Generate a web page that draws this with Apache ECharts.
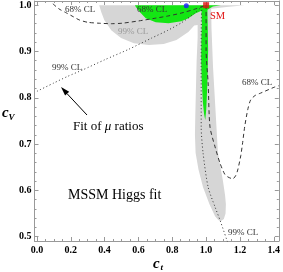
<!DOCTYPE html>
<html><head><meta charset="utf-8">
<style>html,body{margin:0;padding:0;background:#fff}#c{width:283px;height:272px}</style>
<script src="https://cdn.jsdelivr.net/npm/echarts/dist/echarts.min.js"></script>
</head><body><div id="c"></div>
<script>
const xMajorTicks = [0, 0.2, 0.4, 0.6, 0.8, 1.0, 1.2, 1.4];
const xMinorTicks = [0.05,0.1,0.15,0.25,0.3,0.35,0.45,0.5,0.55,0.65,0.7,0.75,0.85,0.9,0.95,1.05,1.1,1.15,1.25,1.3,1.35];
const yMajorTicks = [0.5, 0.6, 0.7, 0.8, 0.9, 1.0];
const yMinorTicks = [0.52,0.54,0.56,0.58,0.62,0.64,0.66,0.68,0.72,0.74,0.76,0.78,0.82,0.84,0.86,0.88,0.92,0.94,0.96,0.98];

// MSSM Higgs fit, 99% CL region (gray)
const gray99 = [
[0.368,1.0],[1.0,1.0],[1.1,1.0],[1.228,1.0],[1.12,0.996],[1.03,0.992],
[1.032,0.95],[1.041,0.866],[1.058,0.758],[1.070,0.681],[1.085,0.650],[1.099,0.622],[1.112,0.590],[1.117,0.570],[1.115,0.550],[1.105,0.538],[1.088,0.534],[1.072,0.536],
[1.053,0.544],[1.02,0.570],[0.982,0.607],[0.955,0.645],[0.938,0.681],[0.934,0.72],[0.936,0.758],[0.940,0.82],[0.944,0.880],[0.950,0.930],[0.950,0.957],
[0.93,0.956],[0.895,0.942],[0.825,0.925],[0.749,0.916],[0.661,0.914],[0.573,0.918],[0.497,0.929],[0.439,0.946],[0.398,0.968],[0.380,0.985],[0.372,0.995]
];
// MSSM Higgs fit, 68% CL region (green)
const green68 = [
[0.579,1.0],[1.0,1.0],[1.088,1.0],[1.04,0.997],[1.008,0.99],
[1.010,0.95],[1.012,0.903],[1.009,0.85],[1.006,0.817],[1.001,0.775],[0.995,0.752],[0.988,0.765],[0.981,0.79],[0.974,0.838],[0.971,0.88],[0.972,0.925],[0.975,0.96],[0.973,0.988],
[0.936,0.982],[0.895,0.972],[0.854,0.965],[0.778,0.961],[0.702,0.963],[0.643,0.972],[0.608,0.985],[0.585,0.996]
];
// Fit of mu ratios, 68% CL (dashed)
const mu68Left = [[0.094,1.003],[0.13,0.992],[0.175,0.983],[0.215,0.975],[0.251,0.968],[0.30,0.963],[0.368,0.961],[0.44,0.960],[0.503,0.961],[0.602,0.966],[0.702,0.972],[0.78,0.977],[0.854,0.983],[0.93,0.991],[1.0,1.0]];
const mu68Right = [[1.0,1.0],[1.0,0.95],[1.0,0.903],[1.012,0.832],[1.023,0.737],[1.053,0.694],[1.082,0.659],[1.11,0.635],[1.129,0.629],[1.158,0.625],[1.175,0.632],[1.187,0.644],[1.205,0.675],[1.216,0.703],[1.228,0.737],[1.246,0.774],[1.263,0.795],[1.29,0.805],[1.322,0.810],[1.404,0.823],[1.43,0.826]];
// Fit of mu ratios, 99% CL (dotted)
const mu99Left = [[0.0,0.814],[0.1,0.832],[0.18,0.846],[0.269,0.860],[0.4,0.882],[0.544,0.905],[0.678,0.929],[0.77,0.945],[0.854,0.962],[0.93,0.982],[0.975,0.997]];
const mu99Right = [[0.975,0.997],[0.972,0.97],[0.971,0.866],[0.971,0.737],[0.982,0.681],[1.012,0.607],[1.053,0.564],[1.082,0.536],[1.129,0.486]];
const bestFit = [[0.883,0.999]];
const smPoint = [[1.0,1.0]];

const X_MIN = -0.0146, X_MAX = 1.43, Y_MIN = 0.4907, Y_MAX = 1.009;
const FRAME = '#999';
const SERIF = '"Liberation Serif", "DejaVu Serif", serif';

function xAx(pos, ticks, len, labels, line) {
  return {type:'value', position:pos, min:X_MIN, max:X_MAX,
    axisLine:{show:line, onZero:false, lineStyle:{color:FRAME,width:1}},
    axisTick:{show:true, inside:true, length:len, customValues:ticks, lineStyle:{color:FRAME,width:1}},
    axisLabel:{show:labels, customValues:ticks, margin:4, formatter:v=>v.toFixed(1), color:'#000', fontFamily:SERIF, fontWeight:'bold', fontSize:10},
    splitLine:{show:false}};
}
function yAx(pos, ticks, len, labels, line) {
  return {type:'value', position:pos, min:Y_MIN, max:Y_MAX,
    axisLine:{show:line, onZero:false, lineStyle:{color:FRAME,width:1}},
    axisTick:{show:true, inside:true, length:len, customValues:ticks, lineStyle:{color:FRAME,width:1}},
    axisLabel:{show:labels, customValues:ticks, margin:3, formatter:v=>v.toFixed(1), color:'#000', fontFamily:SERIF, fontWeight:'bold', fontSize:10},
    splitLine:{show:false}};
}
function poly(points, color, z) {
  return {type:'custom', xAxisIndex:0, yAxisIndex:0, data:[0], z:z, silent:true,
    renderItem:(params, api) => ({type:'polygon', shape:{points:points.map(p=>api.coord(p))}, style:{fill:color}})};
}
function line(data, dash, color) {
  return {type:'line', xAxisIndex:0, yAxisIndex:0, data:data, showSymbol:false, smooth:0.25, z:5, silent:true,
    lineStyle:{color:color, width:1, type:dash}};
}

const chart = echarts.init(document.getElementById('c'), null, {renderer:'canvas'});
const txt = (t, x, y, size, color, extra) => ({type:'text', x:x, y:y, z:100, style:Object.assign({text:t, fill:color, font:size+'px '+SERIF, textVerticalAlign:'middle'}, extra||{})});
chart.setOption({
  animation:false,
  grid:{left:34.5, right:1.5, top:1, bottom:31, containLabel:false},
  xAxis:[xAx('bottom', xMajorTicks, 4, true, true), xAx('bottom', xMinorTicks, 2, false, false), xAx('top', xMajorTicks, 4, false, true), xAx('top', xMinorTicks, 2, false, false)],
  yAxis:[yAx('left', yMajorTicks, 4, true, true), yAx('left', yMinorTicks, 2, false, false), yAx('right', yMajorTicks, 4, false, true), yAx('right', yMinorTicks, 2, false, false)],
  series:[
    poly(gray99, '#d6d6d6', 1),
    poly(green68, '#14e614', 2),
    line(mu68Left, [4,3], '#333'),
    line(mu68Right, [4,3], '#333'),
    line(mu99Left, [1,2.5], '#333'),
    line(mu99Right, [1,2.5], '#333'),
    {type:'scatter', xAxisIndex:0, yAxisIndex:0, data:bestFit, symbol:'circle', symbolSize:5, itemStyle:{color:'#1a1aff'}, z:10},
    {type:'scatter', xAxisIndex:0, yAxisIndex:0, data:smPoint, symbol:'rect', symbolSize:6, itemStyle:{color:'#e01010'}, z:10}
  ],
  graphic:[
    txt('68% CL', 65, 10, 9, '#333'),
    txt('68% CL', 137, 10, 9, '#333'),
    txt('99% CL', 118, 32, 9, '#999'),
    txt('99% CL', 52, 68, 9, '#333'),
    txt('68% CL', 242, 83, 9, '#333'),
    txt('99% CL', 228, 233, 9, '#333'),
    txt('SM', 210, 16, 10.5, '#e01010'),
    {type:'text', x:73, y:127, z:100, style:{rich:{n:{fontFamily:SERIF,fontSize:13,fill:'#000'}, m:{fontFamily:SERIF,fontSize:13,fontStyle:'italic',fill:'#000'}}, text:'{n|Fit of }{m|μ}{n| ratios}', textVerticalAlign:'middle'}},
    txt('MSSM Higgs fit', 68, 195, 14, '#000'),
    {type:'line', z:100, shape:{x1:87, y1:115, x2:67, y2:93.6}, style:{stroke:'#000', lineWidth:1}},
    {type:'polygon', z:100, shape:{points:[[61,87],[69.2,91.7],[65.1,95.5]]}, style:{fill:'#000'}},
    {type:'text', x:153, y:264, z:100, style:{text:'c', font:'bold italic 15px '+SERIF, fill:'#000', textVerticalAlign:'middle'}},
    {type:'text', x:160.5, y:268, z:100, style:{text:'t', font:'bold italic 9px '+SERIF, fill:'#000', textVerticalAlign:'middle'}},
    {type:'text', x:2, y:113, z:100, style:{text:'c', font:'bold italic 15px '+SERIF, fill:'#000', textVerticalAlign:'middle'}},
    {type:'text', x:8.5, y:117.5, z:100, style:{text:'V', font:'bold italic 9px '+SERIF, fill:'#000', textVerticalAlign:'middle'}}
  ]
});
</script></body></html>
